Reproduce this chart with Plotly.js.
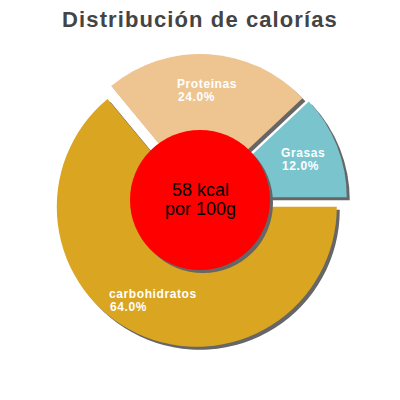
<!DOCTYPE html>
<html><head><meta charset="utf-8">
<script src="https://cdn.plot.ly/plotly-3.0.1.min.js"></script>
<style>
html,body{margin:0;padding:0;background:#fff;}
#chart{width:400px;height:400px;}
text[style*="font-size: 12px"]{letter-spacing:0.6px;}
text[style*="font-size: 22px"]{letter-spacing:1.1px;}
</style>
</head><body><div id="chart"></div>
<script>
// ---- data ----
const chartTitle = 'Distribución de calorías';
const categories = ['Grasas', 'Proteinas', 'carbohidratos'];
const percentages = [12.0, 24.0, 64.0];
const sliceColors = ['#7AC5CD', '#EEC591', '#DAA520'];
const slicePull = [0.052, 0.043, 0.054];
const energyKcal = 58;
const centerLines = [energyKcal + ' kcal', 'por 100g'];

// ---- layout constants ----
const W = 400, H = 400;
const cx = 200, cy = 200;          // pie centre (px)
const R = 140;                      // pie radius (px)
const shadowDx = 3, shadowDy = 3;
const shadowColor = '#666666';
const labelDist = 0.74;
const labelSize = 12;
const labelGap = 13;
const labelFont = {family: 'Liberation Sans, Arial, sans-serif', size: labelSize, color: '#ffffff', weight: 'bold'};
const labelSpacing = 0.6;

const total = percentages.reduce((a, b) => a + b, 0);
const maxPull = Math.max(...slicePull);
const half = R * (1 + maxPull);
const dom = {
  x: [(cx - half) / W, (cx + half) / W],
  y: [1 - (cy + half) / H, 1 - (cy - half) / H]
};
const domShadow = {
  x: [dom.x[0] + shadowDx / W, dom.x[1] + shadowDx / W],
  y: [dom.y[0] - shadowDy / H, dom.y[1] - shadowDy / H]
};
// first slice starts at 3 o'clock and runs counterclockwise
const startRotation = 90 - percentages[0] / total * 360;

const pieBase = {
  type: 'pie', values: percentages, labels: categories, sort: false,
  direction: 'counterclockwise', rotation: startRotation, pull: slicePull,
  textinfo: 'none', hoverinfo: 'none', showlegend: false
};
const shadowTrace = Object.assign({}, pieBase, {
  domain: domShadow,
  marker: {colors: categories.map(() => shadowColor), line: {width: 0}}
});
const mainTrace = Object.assign({}, pieBase, {
  domain: dom,
  marker: {colors: sliceColors, line: {width: 0}}
});

// measure label widths
const cv = document.createElement('canvas').getContext('2d');
cv.font = 'bold ' + labelSize + 'px "Liberation Sans"';
function textW(s) { return cv.measureText(s).width + labelSpacing * s.length; }

const annotations = [];
let cum = 0;
percentages.forEach((v, i) => {
  const midDeg = (cum + v / 2) / total * 360;
  cum += v;
  const t = midDeg * Math.PI / 180;
  const px = cx + slicePull[i] * R * Math.cos(t) + labelDist * R * Math.cos(t);
  const py = cy - slicePull[i] * R * Math.sin(t) - labelDist * R * Math.sin(t);
  const nameW = textW(categories[i]);
  annotations.push({
    xref: 'paper', yref: 'paper', x: px / W, y: 1 - (py - labelGap / 2) / H,
    xanchor: 'center', yanchor: 'middle', showarrow: false,
    text: categories[i], font: labelFont
  });
  annotations.push({
    xref: 'paper', yref: 'paper', x: (px - nameW / 2 - 1) / W, y: 1 - (py + labelGap / 2) / H,
    xanchor: 'left', yanchor: 'middle', showarrow: false,
    text: v.toFixed(1) + '%', font: labelFont
  });
});
const centerFont = {family: 'Liberation Sans, Arial, sans-serif', size: 18, color: '#000000'};
annotations.push({xref: 'paper', yref: 'paper', x: cx / W, y: 1 - 190 / H,
  xanchor: 'center', yanchor: 'middle', showarrow: false, text: centerLines[0], font: centerFont});
annotations.push({xref: 'paper', yref: 'paper', x: cx / W, y: 1 - 208.5 / H,
  xanchor: 'center', yanchor: 'middle', showarrow: false, text: centerLines[1], font: centerFont});

const rIn = R * 0.5;
function circ(x, y, r, color) {
  return {type: 'circle', xref: 'paper', yref: 'paper', layer: 'above',
    x0: (x - r) / W, x1: (x + r) / W, y0: 1 - (y + r) / H, y1: 1 - (y - r) / H,
    fillcolor: color, line: {width: 0}};
}
const shapes = [circ(cx + shadowDx, cy + shadowDy, rIn, shadowColor), circ(cx, cy, rIn, '#FF0000')];

const layout = {
  width: W, height: H,
  margin: {l: 0, r: 0, t: 0, b: 0},
  paper_bgcolor: '#ffffff', plot_bgcolor: '#ffffff',
  title: {text: chartTitle, x: 0.5, xanchor: 'center', xref: 'paper',
    y: 1 - 19 / H, yref: 'container', yanchor: 'middle',
    font: {family: 'Liberation Sans, Arial, sans-serif', size: 22, color: '#444444', weight: 'bold'}},
  annotations: annotations,
  shapes: shapes
};
Plotly.newPlot('chart', [shadowTrace, mainTrace], layout, {staticPlot: true, displayModeBar: false});
</script>
</body></html>
